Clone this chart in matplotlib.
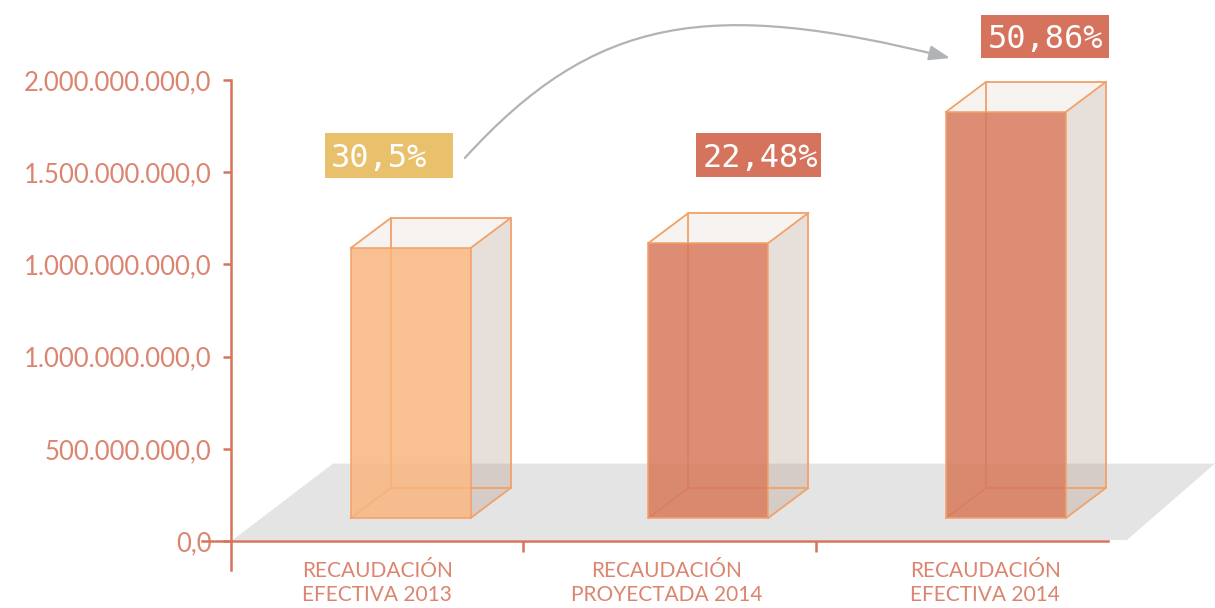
import numpy as np
import matplotlib
matplotlib.use('Agg')
import matplotlib.pyplot as plt
from matplotlib.patches import Polygon, Rectangle, FancyArrowPatch
from matplotlib.path import Path

# Datos
categorias = ['RECAUDACIÓN\nEFECTIVA 2013', 'RECAUDACIÓN\nPROYECTADA 2014', 'RECAUDACIÓN\nEFECTIVA 2014']
recaudacion = [1464e6, 1491e6, 2202e6]
porcentajes = ['30,5%', '22,48%', '50,86%']
y_ticks = [0, 5e8, 1e9, 1.5e9, 2e9, 2.5e9]
y_labels = ['0,0', '500.000.000,0', '1.000.000.000,0', '1.000.000.000,0',
            '1.500.000.000,0', '2.000.000.000,0']

# Colores
col_eje = '#D7745C'
col_texto = '#DB8570'
col_frente = ['#F9B57E', '#D7795A', '#D7795A']
col_caja = ['#E9C16D', '#D6735D', '#D6735D']
col_borde = '#F2A168'
col_sombra = (185 / 255, 158 / 255, 142 / 255)

fig = plt.figure(figsize=(12.15, 6.08), dpi=100)
ax = fig.add_axes([0.1901, 0.0625, 0.7218, 0.8059])
ax.set_xlim(-0.5, 2.5)
ax.set_ylim(-1.57e8, 2.5e9)

# Piso gris
piso = Polygon([(-0.494, 0.6e7), (2.565, 0.6e7), (2.866, 4.2e8), (-0.151, 4.2e8)],
               closed=True, facecolor='#E4E4E4', edgecolor='none', clip_on=False, zorder=0)
ax.add_patch(piso)

# Barras 3D
base = 1.25e8
ancho = 0.41
dx, dy = 0.137, 1.63e8
x = np.arange(len(categorias)) * 1.018 + 0.115

bars = ax.bar(x, recaudacion, width=ancho, bottom=base, color=col_frente, alpha=0.85,
              edgecolor=col_borde, linewidth=1.3, zorder=4)

for b in bars:
    x0, y0 = b.get_x(), b.get_y()
    x1, y1 = x0 + b.get_width(), y0 + b.get_height()
    # cara lateral y superior
    ax.add_patch(Polygon([(x1, y0), (x1 + dx, y0 + dy), (x1 + dx, y1 + dy), (x1, y1)],
                         facecolor=col_sombra + (0.33,), edgecolor='none', zorder=2))
    ax.add_patch(Polygon([(x0, y1), (x0 + dx, y1 + dy), (x1 + dx, y1 + dy), (x1, y1)],
                         facecolor=col_sombra + (0.12,), edgecolor='none', zorder=2))
    # aristas traseras
    ax.plot([x0 + dx, x1 + dx, x1 + dx, x0 + dx, x0 + dx],
            [y0 + dy, y0 + dy, y1 + dy, y1 + dy, y0 + dy],
            color=col_borde, lw=1.3, zorder=3, solid_capstyle='round')
    for (px, py) in [(x0, y0), (x1, y0), (x0, y1), (x1, y1)]:
        ax.plot([px, px + dx], [py, py + dy], color=col_borde, lw=1.3, zorder=3)

# Cajas de porcentaje
caja_x = [0.040, 1.304, 2.285]
caja_y = [2.091e9, 2.093e9, 2.736e9]
caja_w = [0.438, 0.428, 0.438]
caja_h = [2.44e8, 2.40e8, 2.33e8]
for i in range(3):
    ax.add_patch(Rectangle((caja_x[i] - caja_w[i] / 2, caja_y[i] - caja_h[i] / 2),
                           caja_w[i], caja_h[i], facecolor=col_caja[i], edgecolor='none',
                           clip_on=False, zorder=5))
    ax.text(caja_x[i] - caja_w[i] / 2 + 0.022, caja_y[i] - 6.5e7, porcentajes[i],
            ha='left', va='baseline', color='white', fontsize=23,
            family='DejaVu Sans Mono', zorder=6)

# Flecha curva
verts = [(0.300, 2.077e9), (0.745, 2.853e9), (1.138, 2.945e9), (1.960, 2.619e9)]
codes = [Path.MOVETO, Path.CURVE4, Path.CURVE4, Path.CURVE4]
flecha = FancyArrowPatch(path=Path(verts, codes),
                         arrowstyle='-|>,head_length=0.7,head_width=0.25',
                         mutation_scale=18, color='#B1B4B6', lw=1.6,
                         clip_on=False, zorder=6)
ax.add_patch(flecha)

# Ejes
for s in ['top', 'right']:
    ax.spines[s].set_visible(False)
ax.spines['bottom'].set_position(('data', 0))
ax.spines['bottom'].set_bounds(-0.6, 2.5)
for s in ['left', 'bottom']:
    ax.spines[s].set_color(col_eje)
    ax.spines[s].set_linewidth(1.8)
    ax.spines[s].set_zorder(7)

ax.set_yticks(y_ticks)
ax.set_yticklabels(y_labels, fontsize=18.5, family='Lato', fontweight='normal', color=col_texto)
ax.tick_params(axis='y', length=6, width=1.8, color=col_eje, pad=8)
ax.set_xticks([0.5, 1.5])
ax.set_xticklabels([])
ax.tick_params(axis='x', length=8, width=1.8, color=col_eje)

lab_x = [0.0, 0.99, 2.08]
for i, c in enumerate(categorias):
    ax.text(lab_x[i], -2.28e8, c, ha='center', va='center', color=col_texto,
            fontsize=15, family='Lato', linespacing=1.25)

plt.savefig('out.png', dpi=100)
